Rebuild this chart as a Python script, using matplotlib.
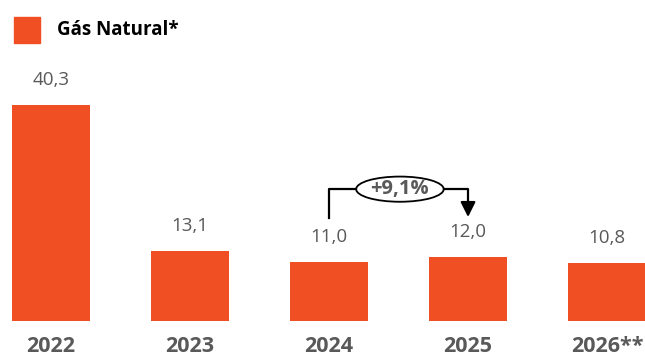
import matplotlib
matplotlib.use("Agg")
import matplotlib.pyplot as plt
from matplotlib.patches import Ellipse, Rectangle

years = ["2022", "2023", "2024", "2025", "2026**"]
values = [40.3, 13.1, 11.0, 12.0, 10.8]
value_labels = ["40,3", "13,1", "11,0", "12,0", "10,8"]
series_name = "Gás Natural*"
change_label = "+9,1%"

bar_color = "#F04E23"
text_gray = "#595959"

plt.rcParams["font.family"] = ["Open Sans", "DejaVu Sans"]

fig = plt.figure(figsize=(6.45, 3.6), dpi=100)
ax = fig.add_axes([0, 0, 1, 1])
ax.set_xlim(-0.367, 4.273)
ax.set_ylim(-7.28, 59.9)
ax.axis("off")

x = list(range(len(years)))
ax.bar(x, values, width=0.56, color=bar_color)

for xi, v, lab in zip(x, values, value_labels):
    ax.text(xi, v + 4.6, lab, ha="center", va="center", fontsize=13.5, color=text_gray)

for xi, yr in zip(x, years):
    ax.text(xi, -4.75, yr, ha="center", va="center", fontsize=15.5,
            fontweight="bold", color=text_gray)

# legend square + series name
fig.patches.append(Rectangle((14 / 645, 1 - 43 / 360), 26 / 645, 26 / 360,
                             transform=fig.transFigure, color=bar_color))
fig.text(57 / 645, 1 - 30 / 360, series_name, ha="left", va="center",
         fontsize=13.5, fontweight="bold", color="black")

# growth bracket from 2024 to 2025
y_low, y_top, y_tip = 19.2, 24.6, 19.4
ex, ew, eh = 2.51, 0.63, 4.7
ax.plot([2, 2, ex - ew / 2], [y_low, y_top, y_top], color="black", lw=1.6)
ax.plot([ex + ew / 2, 3, 3], [y_top, y_top, y_tip + 2.0], color="black", lw=1.6)
ax.annotate("", xy=(3, y_tip), xytext=(3, y_tip + 2.6),
            arrowprops=dict(arrowstyle="-|>,head_width=0.45,head_length=0.9",
                            color="black", lw=1.6, shrinkA=0, shrinkB=0))
ax.add_patch(Ellipse((ex, y_top), ew, eh, facecolor="white",
                     edgecolor="black", lw=1.3))
ax.text(ex, y_top, change_label, ha="center", va="center", fontsize=14.5,
        fontweight="bold", color=text_gray)

fig.savefig("out.png", dpi=100)
